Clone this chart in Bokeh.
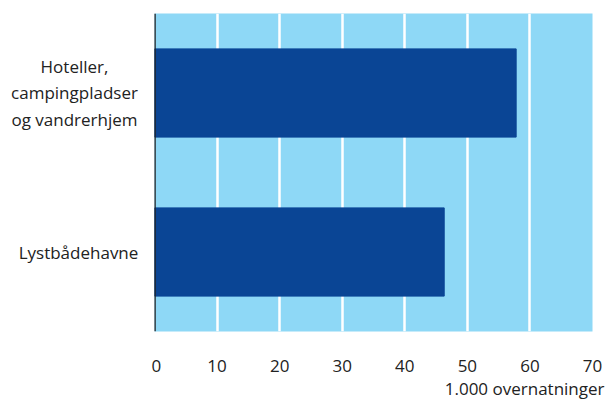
from bokeh.plotting import figure
from bokeh.layouts import row
from bokeh.models import Title, FixedTicker, Span, ColumnDataSource
from bokeh.core.properties import value
from bokeh.embed import file_html
from bokeh.resources import INLINE

categories = ["Lystbådehavne", "Hoteller,\ncampingpladser\nog vandrerhjem"]
values = [46.3, 57.8]
x_ticks = [0, 10, 20, 30, 40, 50, 60, 70]
x_title = "1.000 overnatninger"

FONT = "Open Sans"
TXT = "#222222"
LEFT_W = 151

# main plot
p = figure(width=455, height=399, y_range=categories, x_range=(0, 70),
           output_backend="svg", toolbar_location=None, y_axis_location=None,
           min_border_left=3, min_border_right=14, min_border_top=13, min_border_bottom=68)
p.background_fill_color = "#8ed8f6"
p.border_fill_color = "white"
p.outline_line_color = None

p.hbar(y=categories, right=values, height=0.555, color="#0a4595", line_color="#0a4595")

p.xgrid.ticker = FixedTicker(ticks=x_ticks)
p.xgrid.grid_line_color = "white"
p.xgrid.grid_line_width = 2.5
p.ygrid.grid_line_color = None

p.xaxis.ticker = FixedTicker(ticks=x_ticks)
p.xaxis.axis_line_color = None
p.xaxis.major_tick_line_color = None
p.xaxis.minor_tick_line_color = None
p.xaxis.major_label_standoff = 22
p.xaxis.major_label_text_font = FONT
p.xaxis.major_label_text_font_size = "17px"
p.xaxis.major_label_text_color = TXT

p.add_layout(Span(location=0, dimension="height", line_color="#222222", line_width=2.5))

t = Title(text=x_title, align="right", offset=-12, standoff=0,
          text_font=FONT, text_font_size="17px", text_font_style="normal",
          text_color=TXT)
p.add_layout(t, "below")

# category labels: block right-aligned, lines centred
label_right = 138
block_widths = [120, 128]
label_x = [label_right - w / 2 for w in block_widths]
src = ColumnDataSource(dict(x=label_x, y=categories, text=categories))

left = figure(width=LEFT_W, height=399, y_range=p.y_range, x_range=(0, LEFT_W),
              output_backend="svg", toolbar_location=None,
              x_axis_location=None, y_axis_location=None,
              min_border_left=0, min_border_right=0, min_border_top=13, min_border_bottom=68)
left.outline_line_color = None
left.grid.visible = False
left.background_fill_color = "white"
left.border_fill_color = "white"
left.text(x="x", y="y", text="text", source=src, text_align="center", text_baseline="middle",
          text_font=value(FONT), text_font_size="17px", text_color=TXT, text_line_height=1.17)

layout = row(left, p, spacing=0)
open("out.html", "w").write(file_html(layout, INLINE))
